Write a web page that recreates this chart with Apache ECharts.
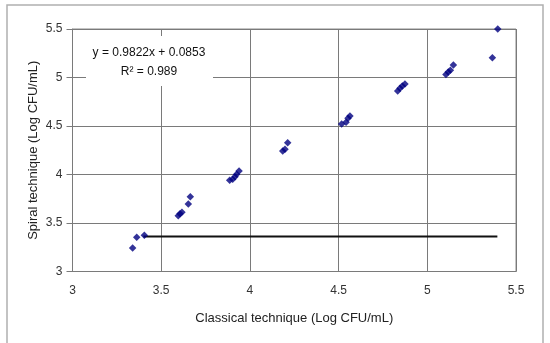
<!DOCTYPE html>
<html>
<head>
<meta charset="utf-8">
<script src="https://cdn.jsdelivr.net/npm/echarts@6/dist/echarts.min.js"></script>
<style>
html,body{margin:0;padding:0;background:#fff;}
#c{width:550px;height:343px;}
</style>
</head>
<body>
<div id="c"></div>
<script>
// Data
var classicalX = [3.339, 3.362, 3.405, 3.596, 3.606, 3.617, 3.653, 3.664, 3.886, 3.903, 3.916, 3.925, 3.939, 4.185, 4.198, 4.213, 4.517, 4.542, 4.553, 4.564, 4.833, 4.846, 4.859, 4.874, 5.105, 5.118, 5.130, 5.147, 5.367, 5.397];
var spiralY    = [3.242, 3.353, 3.373, 3.575, 3.596, 3.610, 3.696, 3.771, 3.940, 3.950, 3.977, 4.002, 4.036, 4.242, 4.260, 4.328, 4.520, 4.538, 4.579, 4.603, 4.861, 4.889, 4.912, 4.933, 5.030, 5.057, 5.075, 5.129, 5.204, 5.500];
var refLineX = [3.40, 5.395];
var refLineY = [3.36, 3.36];
var xTicks = [3, 3.5, 4, 4.5, 5, 5.5];
var yTicks = [3, 3.5, 4, 4.5, 5, 5.5];
var xTitle = 'Classical technique (Log CFU/mL)';
var yTitle = 'Spiral technique (Log CFU/mL)';
var eqText = 'y = 0.9822x + 0.0853';
var r2Text = 'R\u00B2 = 0.989';

var font = 'Liberation Sans, Arial, sans-serif';
var chart = echarts.init(document.getElementById('c'), null, {renderer: 'canvas'});
var pts = classicalX.map(function (x, i) { return [x, spiralY[i]]; });
var linePts = refLineX.map(function (x, i) { return [x, refLineY[i]]; });

chart.setOption({
  animation: false,
  backgroundColor: '#fff',
  grid: {left: 72.5, right: 34, top: 29, bottom: 71.5, show: true, borderColor: '#8a8a8a', borderWidth: 1},
  xAxis: {
    type: 'value', min: xTicks[0], max: xTicks[xTicks.length - 1], interval: 0.5,
    name: xTitle, nameLocation: 'middle', nameGap: 40, nameMoveOverlap: false,
    nameTextStyle: {fontFamily: font, fontSize: 13, color: '#222'},
    axisLine: {show: true, lineStyle: {color: '#7a7a7a', width: 1}},
    axisTick: {show: false},
    axisLabel: {fontFamily: font, fontSize: 12, color: '#333', margin: 13},
    splitLine: {show: true, lineStyle: {color: '#7a7a7a', width: 1}}
  },
  yAxis: {
    type: 'value', min: yTicks[0], max: yTicks[yTicks.length - 1], interval: 0.5,
    name: yTitle, nameLocation: 'middle', nameGap: 33, nameRotate: 90, nameMoveOverlap: false,
    nameTextStyle: {fontFamily: font, fontSize: 13, color: '#222'},
    axisLine: {show: true, lineStyle: {color: '#7a7a7a', width: 1}},
    axisTick: {show: true, inside: false, length: 6, lineStyle: {color: '#7a7a7a'}},
    axisLabel: {fontFamily: font, fontSize: 12, color: '#333', margin: 10},
    splitLine: {show: true, lineStyle: {color: '#7a7a7a', width: 1}}
  },
  series: [
    {
      type: 'line', data: linePts, symbol: 'none', silent: true,
      lineStyle: {color: '#111', width: 2}, z: 2
    },
    {
      type: 'scatter', data: pts, symbol: 'diamond', symbolSize: 7.5,
      itemStyle: {color: '#000080'}, z: 3
    }
  ],
  graphic: [
    {type: 'rect', shape: {x: 7, y: 5, width: 536, height: 345}, style: {fill: 'none', stroke: '#b0b0b0', lineWidth: 1.5}, z: 0, silent: true},
    {type: 'rect', shape: {x: 86, y: 36, width: 127, height: 50}, style: {fill: '#fff'}, z: 100},
    {type: 'text', x: 149, y: 53, z: 101, style: {text: eqText, fontFamily: font, fontSize: 12, fill: '#111', align: 'center', verticalAlign: 'middle'}},
    {type: 'text', x: 149, y: 72, z: 101, style: {text: r2Text, fontFamily: font, fontSize: 12, fill: '#111', align: 'center', verticalAlign: 'middle'}}
  ]
});
</script>
</body>
</html>
